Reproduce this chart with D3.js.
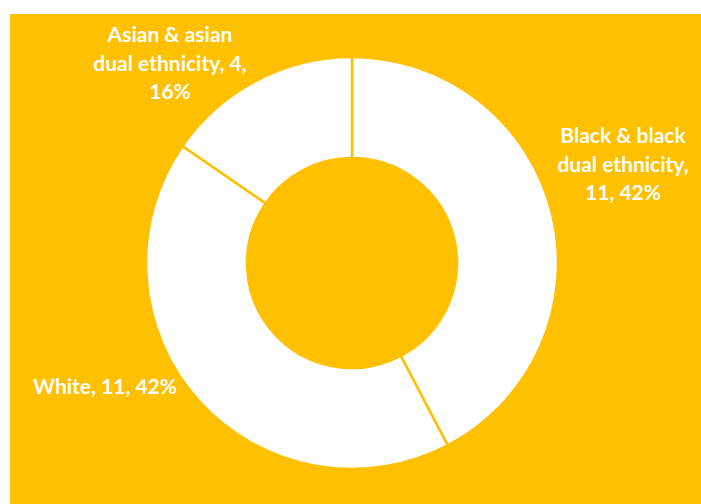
<!DOCTYPE html>
<html>
<head>
<meta charset="utf-8">
<script src="https://cdn.jsdelivr.net/npm/d3@7/dist/d3.min.js"></script>
<style>
  html, body { margin: 0; padding: 0; background: #ffffff; overflow: hidden; }
  svg { display: block; }
</style>
</head>
<body>
<svg id="chart" width="701" height="504"></svg>
<script>
// Ethnicity breakdown (counts)
const categories = ["Black & black dual ethnicity", "White", "Asian & asian dual ethnicity"];
const counts = [11, 11, 4];
const percents = [42, 42, 16];
// Label lines as shown beside each segment
const labelLines = [
  ["Black & black", "dual ethnicity,", "11, 42%"],
  ["White, 11, 42%"],
  ["Asian & asian", "dual ethnicity, 4,", "16%"]
];

const W = 701, H = 504;
const bg = "#FFC000";
const svg = d3.select("#chart");

// chart area panel
svg.append("rect")
  .attr("x", 10).attr("y", 14)
  .attr("width", W - 10).attr("height", H - 14)
  .attr("fill", bg);

const cx = 352, cy = 263;
const outerR = 206, innerR = 105;

const data = categories.map((c, i) => ({ name: c, value: counts[i], pct: percents[i], lines: labelLines[i] }));

const pie = d3.pie().sort(null).value(d => d.value).startAngle(0).endAngle(2 * Math.PI);
const arc = d3.arc().innerRadius(innerR).outerRadius(outerR);
const arcs = pie(data);

const g = svg.append("g").attr("transform", `translate(${cx},${cy})`);
g.selectAll("path.slice")
  .data(arcs)
  .join("path")
  .attr("class", "slice")
  .attr("d", arc)
  .attr("fill", "#ffffff")
  .attr("stroke", bg)
  .attr("stroke-width", 2.5)
  .attr("stroke-linejoin", "miter");

// data labels (absolute anchor for each segment's label block)
const labelAnchors = [
  { x: 623, y: 134 },
  { x: 105, y: 385 },
  { x: 170, y: 33 }
];
const lineGap = 28.5;

const labels = svg.append("g")
  .attr("font-family", "Lato, 'Open Sans', sans-serif")
  .attr("font-weight", 700)
  .attr("font-size", 21)
  .attr("fill", "#ffffff")
  .attr("text-anchor", "middle");

arcs.forEach((a, i) => {
  const t = labels.append("text")
    .attr("x", labelAnchors[i].x)
    .attr("y", labelAnchors[i].y)
    .attr("dominant-baseline", "central");
  a.data.lines.forEach((ln, j) => {
    t.append("tspan")
      .attr("x", labelAnchors[i].x)
      .attr("y", labelAnchors[i].y + j * lineGap)
      .text(ln);
  });
});
</script>
</body>
</html>
